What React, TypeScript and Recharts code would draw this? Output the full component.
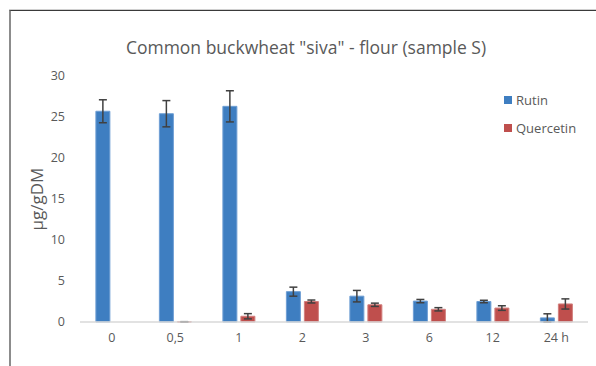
import { BarChart, Bar, XAxis, YAxis, Legend, ErrorBar } from 'recharts';

const hours = ['0', '0,5', '1', '2', '3', '6', '12', '24 h'];
const rutin = [25.7, 25.4, 26.3, 3.7, 3.15, 2.55, 2.5, 0.5];
const rutinErr = [1.4, 1.6, 1.9, 0.55, 0.7, 0.2, 0.15, 0.5];
const quercetin = [0, 0.02, 0.7, 2.5, 2.1, 1.55, 1.7, 2.2];
const quercetinErr = [0, 0.02, 0.32, 0.18, 0.2, 0.2, 0.28, 0.62];
const yTicks = [0, 5, 10, 15, 20, 25, 30];

const SERIES = [
  { key: 'rutin', err: 'rutinErr', label: 'Rutin', color: '#3e7ec1', edge: '#6f9fd4' },
  { key: 'quercetin', err: 'quercetinErr', label: 'Quercetin', color: '#bf4f4d', edge: '#d27f7d' },
] as const;

const data = hours.map((h, i) => ({
  hour: h,
  rutin: rutin[i],
  rutinErr: rutinErr[i],
  quercetin: quercetin[i],
  quercetinErr: quercetinErr[i],
}));

const FONT = '"Open Sans", sans-serif';
const TEXT = '#595959';

function LegendList() {
  return (
    <div style={{ fontFamily: FONT, fontSize: 13, color: TEXT }}>
      {SERIES.map((s) => (
        <div key={s.key} style={{ display: 'flex', alignItems: 'center', height: 28 }}>
          <span style={{ width: 8, height: 8, background: s.color, marginRight: 4 }} />
          {s.label}
        </div>
      ))}
    </div>
  );
}

export default function App() {
  return (
    <div style={{ position: 'absolute', left: 0, top: 0, width: 596, height: 366, background: '#fff' }}>
      <div
        style={{
          position: 'absolute', left: 9, top: 9, right: 0, bottom: 0,
          borderTop: '1px solid #d0d0d0',
        }}
      />
      <div
        style={{
          position: 'absolute', left: 9, top: 10, right: 0, bottom: 0,
          borderTop: '1px solid #3a3a3a', borderLeft: '2px solid #8c8c8c',
        }}
      />
      <div
        style={{
          position: 'absolute', left: 0, width: 612, top: 35, textAlign: 'center',
          fontFamily: FONT, fontSize: 17.5, color: TEXT,
        }}
      >
        Common buckwheat "siva" - flour (sample S)
      </div>
      <div style={{ position: 'absolute', left: 0, top: 0 }}>
        <BarChart
          width={596}
          height={366}
          data={data}
          margin={{ top: 76, right: 8, left: 0, bottom: 0 }}
          barGap={4}
          barCategoryGap="25%"
        >
          <XAxis
            dataKey="hour"
            height={44}
            tickLine={false}
            tickMargin={5}
            axisLine={{ stroke: '#d9d9d9', strokeWidth: 1.5 }}
            tick={{ fontSize: 12.5, fill: TEXT, fontFamily: FONT }}
          />
          <YAxis
            width={80}
            domain={[0, 30]}
            ticks={yTicks}
            interval={0}
            axisLine={false}
            tickLine={false}
            tickMargin={9}
            tick={{ fontSize: 12.5, fill: TEXT, fontFamily: FONT }}
            label={{
              value: 'µg/gDM', angle: -90, position: 'insideLeft', offset: 37,
              style: { fontSize: 17, fill: TEXT, fontFamily: FONT, textAnchor: 'middle' },
            }}
          />
          <Legend
            layout="horizontal"
            verticalAlign="middle"
            align="center"
            content={<LegendList />}
            wrapperStyle={{ position: 'absolute', left: 504, top: 86, width: 92 }}
          />
          {SERIES.map((s) => (
            <Bar
              key={s.key}
              dataKey={s.key}
              name={s.label}
              fill={s.color}
              stroke={s.edge}
              strokeWidth={1}
              isAnimationActive={false}
            >
              <ErrorBar dataKey={s.err} width={4} stroke="#404040" strokeWidth={1.5} direction="y" />
            </Bar>
          ))}
        </BarChart>
      </div>
    </div>
  );
}
